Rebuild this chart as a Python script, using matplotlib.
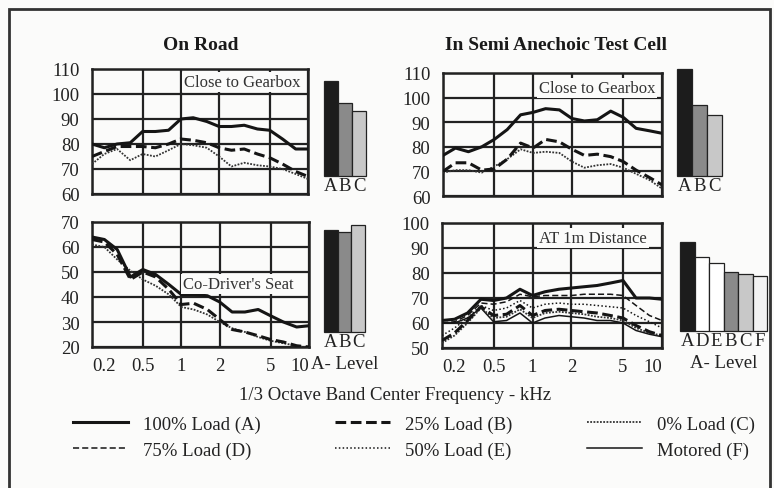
import matplotlib
matplotlib.use('Agg')
import matplotlib.pyplot as plt
from matplotlib.patches import Rectangle
from matplotlib.lines import Line2D

plt.rcParams['font.family'] = ['Liberation Serif', 'DejaVu Serif']

# 1/3 octave band centre frequencies, kHz
freq = [0.2, 0.25, 0.315, 0.4, 0.5, 0.63, 0.8, 1, 1.25, 1.6, 2, 2.5,
        3.15, 4, 5, 6.3, 8, 10]
xticks = [0.2, 0.5, 1, 2, 5, 10]
xtick_labels = ['0.2', '0.5', '1', '2', '5', '10']

# On road, close to gearbox
road_gear_a = [80, 78.5, 80, 80.5, 85, 85, 85.5, 90, 90.5, 89, 87, 87, 87.5, 86, 85.5, 82, 78, 78]
road_gear_b = [75, 77, 79, 79, 79, 78.5, 80, 82, 81.5, 80.5, 78.5, 77.5, 78, 76, 74.5, 72, 69, 67]
road_gear_c = [72, 76, 78, 73.5, 76, 75, 77.5, 80, 79.5, 78.5, 75, 71, 72.5, 71.5, 71, 70, 68, 66]

# On road, co-driver's seat
road_seat_a = [64, 63, 59, 48, 51, 49, 45, 41, 41, 40.5, 38, 34, 34, 35, 32.5, 30, 28, 28.5]
road_seat_b = [63, 62, 57, 47, 50, 48, 43, 37, 37.5, 35, 31, 27, 26, 24.5, 23, 22, 20.5, 20]
road_seat_c = [61, 60, 55, 50.5, 47, 44.5, 41, 36, 35, 33, 30, 27.5, 26, 24, 22.5, 21.5, 20.5, 19.5]

# Test cell, close to gearbox
cell_gear_a = [76.5, 79.5, 78, 80, 83, 87, 93, 94, 95.5, 95, 91.5, 90.5, 91, 94.5, 92, 87.5, 86.5, 85.5]
cell_gear_b = [70, 73.5, 73.5, 70.5, 71, 75, 81.5, 79.5, 83, 82, 79, 76.5, 77, 76, 74, 70.5, 67.5, 64.5]
cell_gear_c = [69.5, 70.5, 70.5, 69.5, 72, 75, 79, 77.5, 78, 77.5, 74, 71.5, 72.5, 73, 71.5, 69, 66.5, 63]

# Test cell, 1 m distance
cell_1m_a = [61, 61.5, 64, 69.5, 69, 70, 73.5, 71, 72.5, 73.5, 74, 74.5, 75, 76, 77, 70, 70, 69.5]
cell_1m_d = [60, 60.5, 63, 68, 67.5, 68.5, 71.5, 70.5, 71, 71, 71, 71.5, 71.5, 71.5, 71, 67, 63, 61]
cell_1m_e = [55, 58, 62, 67, 65, 66, 69, 66, 67.5, 68, 67.5, 67.5, 67, 66.5, 66, 63, 60.5, 58]
cell_1m_b = [53, 56, 61, 66.5, 63, 63.5, 67, 63, 65, 65.5, 65, 64.5, 64, 63, 62, 59, 56.5, 55]
cell_1m_c = [52, 55, 60, 66, 62, 62.5, 65.5, 62, 64, 64.5, 64, 63.5, 62.5, 62, 61, 58, 56, 55]
cell_1m_f = [60, 60, 62, 66, 60.5, 61, 64, 60, 62, 63, 62.5, 62, 61, 61, 60, 57, 55.5, 54.5]

# A-weighted overall levels (bar charts)
road_gear_bars = ['A', 'B', 'C']
road_gear_lvl = [105, 96.5, 93]
road_seat_bars = ['A', 'B', 'C']
road_seat_lvl = [67, 66, 69]
cell_gear_bars = ['A', 'B', 'C']
cell_gear_lvl = [111.5, 97, 93]
cell_1m_bars = ['A', 'D', 'E', 'B', 'C', 'F']
cell_1m_lvl = [92.4, 86.4, 84, 80.4, 79.6, 78.8]

labels = {'A': '100% Load (A)', 'B': '25% Load (B)', 'C': '0% Load (C)',
          'D': '75% Load (D)', 'E': '50% Load (E)', 'F': 'Motored (F)'}

ink = '#151515'
styles = {
    'A': dict(color=ink, lw=2.2, ls='-'),
    'B': dict(color=ink, lw=2.2, ls=(0, (3.5, 1.5))),
    'C': dict(color='#333333', lw=1.3, ls=(0, (1, 0.8))),
    'D': dict(color=ink, lw=1.1, ls=(0, (4, 2))),
    'E': dict(color=ink, lw=1.1, ls=(0, (1, 1.5))),
    'F': dict(color=ink, lw=1.1, ls='-'),
}
bar_colors = {'A': '#1c1c1c', 'B': '#8a8a8a', 'C': '#c8c8c8',
              'D': '#ffffff', 'E': '#ffffff', 'F': '#f3f3f3'}

W, H = 774, 489
bg = '#fbfbfa'
fs = 13.5
fig = plt.figure(figsize=(W / 100, H / 100), dpi=100, facecolor=bg)


def rect(left, top, right, bottom):
    return [left / W, 1 - bottom / H, (right - left) / W, (bottom - top) / H]


def line_panel(box, ylim, curves, note, note_xy, show_x):
    ax = fig.add_axes(box)
    ax.set_facecolor(bg)
    for key, vals in curves:
        ax.plot(freq, vals, **styles[key], zorder=3)
    ax.set_xscale('log')
    ax.set_xlim(0.2, 10)
    ax.set_ylim(*ylim)
    ax.set_yticks(range(ylim[0], ylim[1] + 1, 10))
    ax.set_xticks(xticks)
    ax.minorticks_off()
    if show_x:
        ax.set_xticklabels(xtick_labels)
        tl = ax.get_xticklabels()
        tl[0].set_ha('left')
        tl[-1].set_ha('right')
    else:
        ax.set_xticklabels([])
    ax.tick_params(length=0, labelsize=fs, pad=7, colors='#222222')
    ax.tick_params(axis='y', pad=9)
    ax.grid(True, color='#222222', lw=1.6)
    for s in ax.spines.values():
        s.set_linewidth(1.8)
        s.set_color('#222222')
    ax.text(note_xy[0], note_xy[1], note, transform=ax.transAxes, ha='center',
            va='center', fontsize=12, color='#333333', zorder=5,
            bbox=dict(facecolor=bg, edgecolor='none', pad=1.5))
    return ax


def bar_panel(box, keys, levels, base, top, level_text):
    ax = fig.add_axes(box)
    ax.bar(range(len(keys)), [v - base for v in levels], bottom=base, width=1.0,
           color=[bar_colors[k] for k in keys], edgecolor='#222222', lw=0.9,
           clip_on=False)
    ax.set_xlim(-0.5, len(keys) - 0.5)
    ax.set_ylim(base, top)
    ax.set_xticks(range(len(keys)))
    ax.set_xticklabels(keys)
    ax.set_yticks([])
    ax.tick_params(length=0, labelsize=fs, pad=1, colors='#222222')
    for s in ax.spines.values():
        s.set_visible(False)
    ax.patch.set_alpha(0)
    if level_text:
        ax.text(0.5, -0.29, 'A- Level', transform=ax.transAxes, ha='center',
                va='center', fontsize=fs, color='#222222')
    return ax


# On Road
line_panel(rect(92, 70, 308, 195), (60, 110),
           [('C', road_gear_c), ('B', road_gear_b), ('A', road_gear_a)],
           'Close to Gearbox', (0.694, 0.896), False)
bar_panel(rect(324, 70, 366, 177), road_gear_bars, road_gear_lvl, 67, 110, False)

line_panel(rect(92, 223, 309, 348), (20, 70),
           [('C', road_seat_c), ('B', road_seat_b), ('A', road_seat_a)],
           "Co-Driver's Seat", (0.673, 0.504), True)
bar_panel(rect(324, 223, 365, 333), road_seat_bars, road_seat_lvl, 26, 70, True)

# Semi anechoic test cell
line_panel(rect(443, 74, 662, 197), (60, 110),
           [('C', cell_gear_c), ('B', cell_gear_b), ('A', cell_gear_a)],
           'Close to Gearbox', (0.703, 0.878), False)
bar_panel(rect(677, 70, 722, 177), cell_gear_bars, cell_gear_lvl, 68, 111.5, False)

line_panel(rect(442, 224, 662, 349), (50, 100),
           [('F', cell_1m_f), ('C', cell_1m_c), ('B', cell_1m_b), ('E', cell_1m_e),
            ('D', cell_1m_d), ('A', cell_1m_a)],
           'AT 1m Distance', (0.686, 0.88), True)
bar_panel(rect(680, 224, 767, 332), cell_1m_bars, cell_1m_lvl, 56.8, 100, True)

fig.text(201 / W, 1 - 45 / H, 'On Road', ha='center', va='center',
         fontsize=14, fontweight='bold', color='#1a1a1a')
fig.text(556 / W, 1 - 45 / H, 'In Semi Anechoic Test Cell', ha='center',
         va='center', fontsize=14, fontweight='bold', color='#1a1a1a')
fig.text(395 / W, 1 - 396 / H, '1/3 Octave Band Center Frequency - kHz',
         ha='center', va='center', fontsize=fs, color='#222222')

order = ['A', 'D', 'B', 'E', 'C', 'F']
handles = [Line2D([], [], **styles[k]) for k in order]
fig.legend(handles, [labels[k] for k in order], ncol=3, frameon=False,
           loc='center', bbox_to_anchor=(414 / W, 1 - 438 / H),
           fontsize=fs, handlelength=2.9, handletextpad=0.8,
           columnspacing=4.0, labelspacing=0.45, labelcolor='#222222',
           borderpad=0)

# scanned page frame
fig.patches.append(Rectangle((9 / W, -0.05), (770 - 9) / W, 1 - 10 / H + 0.05,
                             transform=fig.transFigure, fill=False,
                             lw=2, edgecolor='#333333'))

fig.savefig('out.png', dpi=100, facecolor=fig.get_facecolor())
